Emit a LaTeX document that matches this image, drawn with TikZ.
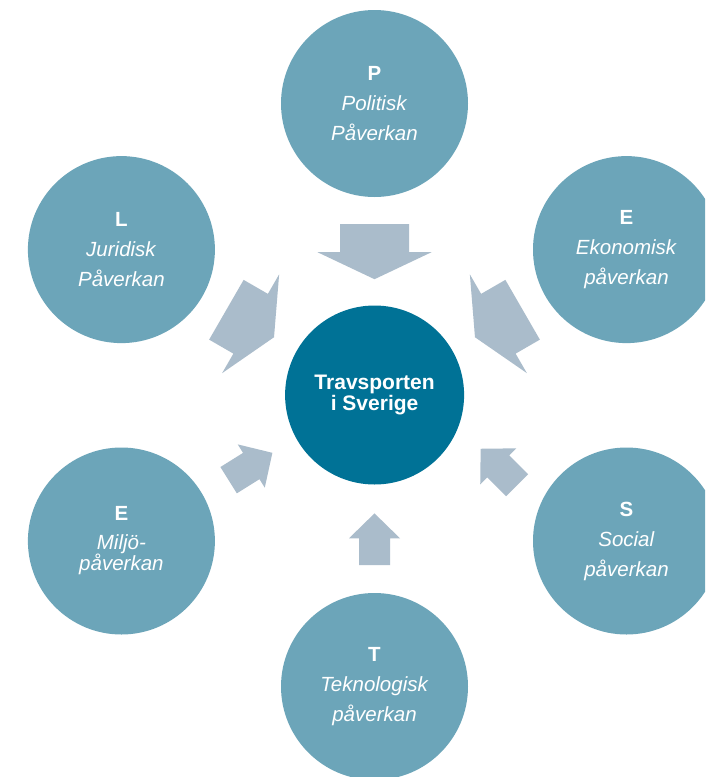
\documentclass[tikz,border=0pt]{standalone}
\usepackage{fontspec}
\setmainfont{Liberation Sans}
\definecolor{outerc}{RGB}{108,165,185}
\definecolor{centc}{RGB}{0,114,150}
\definecolor{arrowc}{RGB}{170,188,203}
\tikzset{
  outer/.style={circle, fill=outerc, minimum size=187pt, inner sep=0pt, text=white, align=center, font=\fontsize{20.5}{30}\selectfont},
  centre/.style={circle, fill=centc, minimum size=179pt, inner sep=0pt, text=white, align=center, font=\fontsize{21}{19}\selectfont\bfseries},
  bigarrow/.pic={\fill[arrowc] (-27.5,-34.5) -- (0.5,-34.5) -- (0.5,-57) -- (27.5,0) -- (0.5,57) -- (0.5,34.5) -- (-27.5,34.5) -- cycle;},
  smallarrow/.pic={\fill[arrowc] (-25.8,-15.5) -- (0.9,-15.5) -- (0.9,-25.5) -- (25.8,0) -- (0.9,25.5) -- (0.9,15.5) -- (-25.8,15.5) -- cycle;}
}
\begin{document}
\begin{tikzpicture}[x=1pt,y=-1pt]
\useasboundingbox (0,0) rectangle (705,777);
\clip (0,0) rectangle (705,777);
\fill[white] (0,0) rectangle (705,777);
% circles
\node[outer] (P) at (374.5,103.5) {\textbf{P}\\\textit{Politisk}\\\textit{Påverkan}};
\node[outer] (L) at (121.4,249.6) {\textbf{L}\\\textit{Juridisk}\\\textit{Påverkan}};
\node[outer] (Eko) at (626.5,249.6) {\textbf{E}\\\textit{Ekonomisk}\\\textit{påverkan}};
\node[outer] (Emil) at (121.4,541) {\textbf{E}\\[-1.7pt]\textit{Miljö-}\\[-8.3pt]\textit{påverkan}};
\node[outer] (Soc) at (626.5,541) {\textbf{S}\\\textit{Social}\\\textit{påverkan}};
\node[outer] (Tek) at (374.5,686.5) {\textbf{T}\\\textit{Teknologisk}\\\textit{påverkan}};
\node[centre] (C) at (374.6,395) {Travsporten\\i Sverige};
% arrows
\pic[rotate=-90] at (374.5,251.7) {bigarrow};
\pic[rotate=-30] at (250.2,323.5) {bigarrow};
\pic[rotate=-150] at (498.8,323.5) {bigarrow};
\pic[rotate=90] at (374.5,539.2) {smallarrow};
\pic[rotate=32] at (250.5,466.5) {smallarrow};
\pic[rotate=135] at (498.9,467) {smallarrow};
\end{tikzpicture}
\end{document}
